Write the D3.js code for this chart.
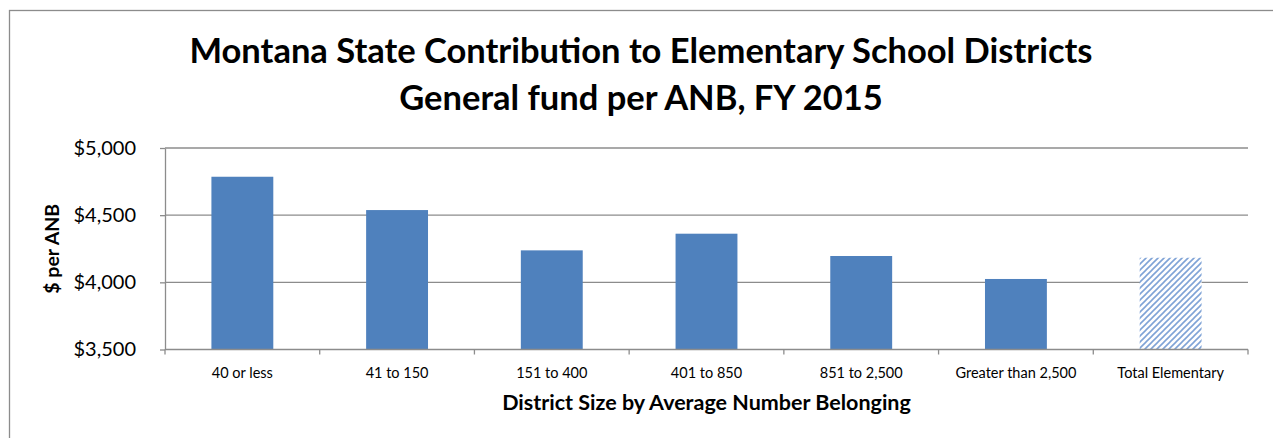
<!DOCTYPE html>
<html>
<head>
<meta charset="utf-8">
<script src="https://d3js.org/d3.v7.min.js"></script>
<style>
    body { margin: 0; background: #fff; }
    text { font-family: Lato, "Open Sans", sans-serif; fill: #000; }
    .grid line { stroke: #8c8c8c; stroke-width: 1.3; }
    .axis path, .axis line { stroke: #8c8c8c; stroke-width: 1.3; }
</style>
</head>
<body>
<script>
//chart values
var categories = ["40 or less", "41 to 150", "151 to 400", "401 to 850",
    "851 to 2,500", "Greater than 2,500", "Total Elementary"];
var values = [4786, 4538, 4238, 4362, 4196, 4025, 4183];
var yTicks = [3500, 4000, 4500, 5000];
var titleLines = ["Montana State Contribution to Elementary School Districts",
    "General fund per ANB, FY 2015"];
var yTitle = "$ per ANB";
var xTitle = "District Size by Average Number Belonging";

window.onload = drawChart();

function drawChart(){

    var width = 1273,
        height = 438;

    var plot = {left: 165, right: 1248, top: 148, bottom: 349.5};

    var svg = d3.select('body')
        .append('svg')
        .attr('width', width)
        .attr('height', height);

    //hatch pattern for the total bar
    var pattern = svg.append('defs')
        .append('pattern')
        .attr('id', 'hatch')
        .attr('patternUnits', 'userSpaceOnUse')
        .attr('width', 6)
        .attr('height', 6);
    pattern.append('rect')
        .attr('width', 6)
        .attr('height', 6)
        .attr('fill', '#fff');
    pattern.append('path')
        .attr('d', 'M0,6 L6,0 M-1.5,1.5 L1.5,-1.5 M4.5,7.5 L7.5,4.5')
        .attr('stroke', '#7fa3d6')
        .attr('stroke-width', 1.6);

    //outer chart border
    svg.append('rect')
        .attr('x', 9.5)
        .attr('y', 10.5)
        .attr('width', 1275)
        .attr('height', 450)
        .attr('fill', 'none')
        .attr('stroke', '#8c8c8c')
        .attr('stroke-width', 1.3);

    var x = d3.scaleBand()
        .domain(categories)
        .range([plot.left, plot.right])
        .paddingInner(0.6)
        .paddingOuter(0.3);

    var y = d3.scaleLinear()
        .domain([3500, 5000])
        .range([plot.bottom, plot.top]);

    //horizontal gridlines
    svg.append('g')
        .attr('class', 'grid')
        .selectAll('line')
        .data(yTicks.slice(1))
        .enter()
        .append('line')
        .attr('x1', plot.left)
        .attr('x2', plot.right)
        .attr('y1', function(d){ return y(d); })
        .attr('y2', function(d){ return y(d); });

    //bars
    svg.selectAll('.bar')
        .data(values)
        .enter()
        .append('rect')
        .attr('class', 'bar')
        .attr('x', function(d, i){ return x(categories[i]); })
        .attr('width', x.bandwidth())
        .attr('y', function(d){ return y(d); })
        .attr('height', function(d){ return plot.bottom - y(d); })
        .attr('fill', function(d, i){
            return i == categories.length - 1 ? 'url(#hatch)' : '#4f81bd';
        });

    //y axis
    var yAxis = svg.append('g')
        .attr('class', 'axis')
        .attr('transform', 'translate(' + plot.left + ',0)')
        .call(d3.axisLeft(y)
            .tickValues(yTicks)
            .tickSizeInner(5)
            .tickSizeOuter(0)
            .tickPadding(24)
            .tickFormat(function(d){ return '$' + d3.format(',')(d); }));
    yAxis.selectAll('text')
        .style('font-size', '20px')
        .style('font-family', 'Lato, sans-serif');

    //x axis with ticks between the categories
    var xAxis = svg.append('g')
        .attr('class', 'axis')
        .attr('transform', 'translate(0,' + plot.bottom + ')');
    xAxis.append('line')
        .attr('x1', plot.left)
        .attr('x2', plot.right);
    var step = (plot.right - plot.left) / categories.length;
    xAxis.selectAll('.tick')
        .data(d3.range(categories.length + 1))
        .enter()
        .append('line')
        .attr('x1', function(d){ return plot.left + d * step; })
        .attr('x2', function(d){ return plot.left + d * step; })
        .attr('y1', 0)
        .attr('y2', 5);
    xAxis.selectAll('text')
        .data(categories)
        .enter()
        .append('text')
        .attr('x', function(d){ return x(d) + x.bandwidth() / 2; })
        .attr('y', 28)
        .attr('text-anchor', 'middle')
        .style('font-size', '14.5px')
        .text(function(d){ return d; });

    //chart title
    svg.selectAll('.title')
        .data(titleLines)
        .enter()
        .append('text')
        .attr('class', 'title')
        .attr('x', 641)
        .attr('y', function(d, i){ return 63 + i * 47; })
        .attr('text-anchor', 'middle')
        .style('font-size', '34.5px')
        .style('font-weight', 'bold')
        .text(function(d){ return d; });

    //axis titles
    svg.append('text')
        .attr('transform', 'translate(59,' + (plot.top + plot.bottom) / 2 + ') rotate(-90)')
        .attr('text-anchor', 'middle')
        .style('font-size', '19.5px')
        .style('font-weight', 'bold')
        .text(yTitle);

    svg.append('text')
        .attr('x', (plot.left + plot.right) / 2)
        .attr('y', 410)
        .attr('text-anchor', 'middle')
        .style('font-size', '21.5px')
        .style('font-weight', 'bold')
        .text(xTitle);
};
</script>
</body>
</html>
